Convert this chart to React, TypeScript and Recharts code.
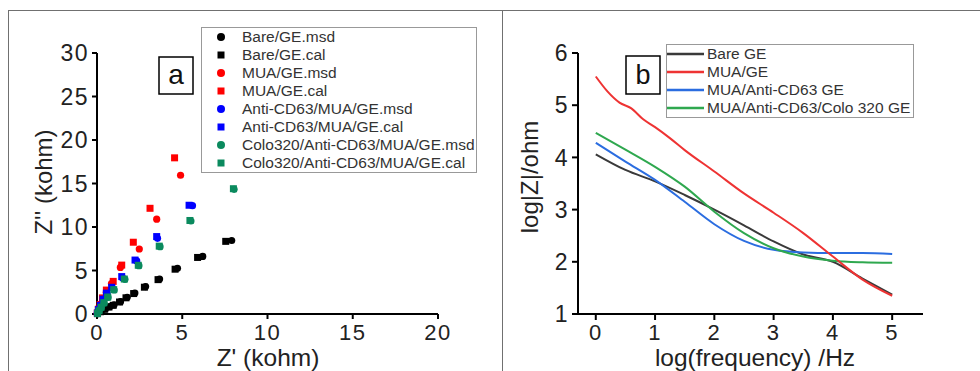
import React from "react";
import { ScatterChart, Scatter, LineChart, Line, XAxis, YAxis, Legend } from "recharts";

// panel a: Nyquist plot, Z' vs Z'' (kohm)
const bareMsd = [[0.05, 0.05], [0.25, 0.3], [0.5, 0.6], [0.75, 0.85], [1.0, 1.05], [1.38, 1.42], [1.77, 1.92], [2.22, 2.4], [2.85, 3.15], [3.67, 4.02], [4.72, 5.25], [6.2, 6.62], [7.9, 8.45]];
const bareCal = [[0.03, 0.04], [0.2, 0.26], [0.45, 0.55], [0.7, 0.8], [0.95, 1.0], [1.32, 1.38], [1.7, 1.86], [2.15, 2.35], [2.78, 3.08], [3.58, 3.95], [4.58, 5.15], [5.9, 6.5], [7.55, 8.35]];
const muaMsd = [[0.02, 0.1], [0.1, 0.5], [0.2, 1.0], [0.35, 1.75], [0.55, 2.5], [0.85, 3.5], [1.37, 5.35], [2.48, 7.47], [3.5, 10.9], [4.9, 15.95]];
const muaCal = [[0.02, 0.12], [0.08, 0.55], [0.18, 1.1], [0.32, 1.85], [0.55, 2.75], [0.95, 3.75], [1.45, 5.62], [2.13, 8.25], [3.11, 12.15], [4.55, 17.95]];
const antiMsd = [[0.02, 0.08], [0.1, 0.45], [0.22, 0.95], [0.38, 1.6], [0.6, 2.3], [0.9, 3.0], [1.5, 4.15], [2.33, 6.1], [3.55, 8.7], [5.6, 12.45]];
const antiCal = [[0.02, 0.1], [0.08, 0.5], [0.2, 1.0], [0.35, 1.7], [0.55, 2.4], [0.86, 3.07], [1.45, 4.3], [2.23, 6.2], [3.5, 8.9], [5.4, 12.5]];
const coloMsd = [[0.03, 0.05], [0.12, 0.35], [0.25, 0.75], [0.42, 1.25], [0.65, 1.9], [1.01, 2.76], [1.64, 3.98], [2.46, 5.56], [3.7, 7.74], [5.51, 10.69], [8.04, 14.33]];
const coloCal = [[0.03, 0.06], [0.12, 0.37], [0.24, 0.78], [0.4, 1.3], [0.63, 1.95], [0.98, 2.8], [1.6, 4.02], [2.42, 5.6], [3.65, 7.8], [5.45, 10.75], [8.0, 14.4]];

const zReTicks = [0, 5, 10, 15, 20];
const zImTicks = [0, 5, 10, 15, 20, 25, 30];

// panel b: Bode plot
const freq = [0, 0.5, 1, 1.5, 2, 2.5, 3, 3.5, 4, 4.5, 5];
const freqFine = [0, 0.2, 0.4, 0.6, 0.8, 1, 1.25, 1.5, 2, 2.5, 3, 3.5, 4, 4.5, 5];
const bareGE = [4.06, 3.76, 3.54, 3.28, 3.0, 2.7, 2.39, 2.14, 2.0, 1.68, 1.37];
const muaGE = [5.55, 5.26, 5.05, 4.94, 4.73, 4.58, 4.37, 4.14, 3.73, 3.31, 2.94, 2.55, 2.1, 1.66, 1.35];
const antiGE = [4.28, 3.92, 3.57, 3.15, 2.72, 2.4, 2.23, 2.18, 2.17, 2.17, 2.15];
const coloGE = [4.47, 4.15, 3.82, 3.44, 2.96, 2.55, 2.26, 2.1, 2.02, 1.99, 1.98];

const freqTicks = [0, 1, 2, 3, 4, 5];
const logZTicks = [1, 2, 3, 4, 5, 6];

const pts = (a: number[][]) => a.map(([x, y]) => ({ x, y }));
const zip = (xs: number[], ys: number[]) => xs.map((x, i) => ({ x, y: ys[i] }));

const FONT = "'Liberation Sans', Arial, sans-serif";

const scatterSeries = [
	{ name: "Bare/GE.msd", data: pts(bareMsd), color: "#000000", shape: "circle" },
	{ name: "Bare/GE.cal", data: pts(bareCal), color: "#000000", shape: "square" },
	{ name: "MUA/GE.msd", data: pts(muaMsd), color: "#ff0000", shape: "circle" },
	{ name: "MUA/GE.cal", data: pts(muaCal), color: "#ff0000", shape: "square" },
	{ name: "Anti-CD63/MUA/GE.msd", data: pts(antiMsd), color: "#0000ff", shape: "circle" },
	{ name: "Anti-CD63/MUA/GE.cal", data: pts(antiCal), color: "#0000ff", shape: "square" },
	{ name: "Colo320/Anti-CD63/MUA/GE.msd", data: pts(coloMsd), color: "#0b8a5e", shape: "circle" },
	{ name: "Colo320/Anti-CD63/MUA/GE.cal", data: pts(coloCal), color: "#0b8a5e", shape: "square" },
];

const lineSeries = [
	{ name: "Bare GE", data: zip(freq, bareGE), color: "#3a3a3a" },
	{ name: "MUA/GE", data: zip(freqFine, muaGE), color: "#ee3333" },
	{ name: "MUA/Anti-CD63 GE", data: zip(freq, antiGE), color: "#2b6de0" },
	{ name: "MUA/Anti-CD63/Colo 320 GE", data: zip(freq, coloGE), color: "#2fa84f" },
];
// red is drawn last so it covers the black tail
const lineDrawOrder = [0, 2, 3, 1];

const marker = (color: string, shape: string) => (props: any) =>
	shape === "circle" ? (
		<circle cx={props.cx} cy={props.cy} r={3.6} fill={color} />
	) : (
		<rect x={props.cx - 3.5} y={props.cy - 3.5} width={7} height={7} fill={color} />
	);

const axisLine = { stroke: "#000", strokeWidth: 2 };
const tickStyle = { fill: "#222", fontSize: 23, fontFamily: FONT, letterSpacing: 1.5 };
const xTickStyle = { ...tickStyle, fontSize: 22 };

const ScatterLegend = () => (
	<div
		style={{
			width: 276,
			height: 146,
			boxSizing: "border-box",
			border: "1.5px solid #999",
			background: "#fff",
			fontFamily: FONT,
			fontSize: 15.5,
			color: "#333",
		}}
	>
		{scatterSeries.map((s) => (
			<div key={s.name} style={{ display: "flex", alignItems: "center", height: 18 }}>
				<svg width={40} height={18} style={{ flex: "none" }}>
					{s.shape === "circle" ? (
						<circle cx={19} cy={9} r={4} fill={s.color} />
					) : (
						<rect x={15.5} y={5.5} width={7} height={7} fill={s.color} />
					)}
				</svg>
				<span style={{ whiteSpace: "nowrap" }}>{s.name}</span>
			</div>
		))}
	</div>
);

const LineLegend = () => (
	<div
		style={{
			width: 248,
			height: 74,
			boxSizing: "border-box",
			border: "1.5px solid #999",
			background: "#fff",
			fontFamily: FONT,
			fontSize: 15.5,
			color: "#333",
		}}
	>
		{lineSeries.map((s) => (
			<div key={s.name} style={{ display: "flex", alignItems: "center", height: 18 }}>
				<svg width={40} height={18} style={{ flex: "none" }}>
					<line x1={0} y1={9} x2={37} y2={9} stroke={s.color} strokeWidth={2.5} />
				</svg>
				<span style={{ whiteSpace: "nowrap" }}>{s.name}</span>
			</div>
		))}
	</div>
);

export default function App() {
	return (
		<div
			style={{
				position: "absolute",
				left: 0,
				top: 0,
				width: 980,
				height: 371,
				overflow: "hidden",
				background: "#fff",
			}}
		>
			<div
				style={{
					position: "absolute",
					left: 8,
					top: 10,
					width: 1000,
					height: 400,
					border: "1px solid #707070",
				}}
			/>
			<div style={{ position: "absolute", left: 502, top: 10, width: 1, height: 371, background: "#707070" }} />

			<div style={{ position: "absolute", left: 0, top: 0 }}>
				<ScatterChart width={490} height={371} margin={{ top: 53, right: 52, bottom: 0, left: 0 }}>
					<XAxis
						type="number"
						dataKey="x"
						domain={[0, 20]}
						ticks={zReTicks}
						height={57}
						tickSize={5}
						tickMargin={5}
						axisLine={axisLine}
						tickLine={axisLine}
						tick={xTickStyle}
					/>
					<YAxis
						type="number"
						dataKey="y"
						domain={[0, 30]}
						ticks={zImTicks}
						width={97}
						tickSize={5}
						tickMargin={3}
						axisLine={axisLine}
						tickLine={axisLine}
						tick={tickStyle}
					/>
					{scatterSeries.map((s) => (
						<Scatter
							key={s.name}
							name={s.name}
							data={s.data}
							fill={s.color}
							shape={marker(s.color, s.shape)}
							isAnimationActive={false}
						/>
					))}
					<Legend
						layout="vertical"
						align="center"
						verticalAlign="middle"
						content={ScatterLegend}
						wrapperStyle={{ left: 201, top: 27, width: 276, height: 146 }}
					/>
					<rect x={159} y={57} width={34} height={37} fill="none" stroke="#000" strokeWidth={1.5} />
					<text x={176} y={84} textAnchor="middle" style={{ fontSize: 28, fontFamily: FONT, fill: "#111" }}>
						a
					</text>
					<text x={268} y={366} textAnchor="middle" style={{ fontSize: 24.5, fontFamily: FONT, fill: "#222" }}>
						Z' (kohm)
					</text>
					<text
						x={52}
						y={182}
						textAnchor="middle"
						transform="rotate(-90 52 182)"
						style={{ fontSize: 24, fontFamily: FONT, fill: "#222" }}
					>
						Z'' (kohm)
					</text>
				</ScatterChart>
			</div>

			<div style={{ position: "absolute", left: 490, top: 0 }}>
				<LineChart width={490} height={371} margin={{ top: 53, right: 57, bottom: 0, left: 0 }}>
					<XAxis
						type="number"
						dataKey="x"
						domain={[-0.3, 5.52]}
						ticks={freqTicks}
						allowDataOverflow
						height={57}
						tickSize={6}
						tickMargin={4}
						axisLine={axisLine}
						tickLine={axisLine}
						tick={xTickStyle}
					/>
					<YAxis
						type="number"
						domain={[1, 6]}
						ticks={logZTicks}
						width={88}
						tickSize={6}
						tickMargin={3}
						axisLine={axisLine}
						tickLine={axisLine}
						tick={tickStyle}
					/>
					{lineDrawOrder.map((i) => {
						const s = lineSeries[i];
						return (
							<Line
								key={s.name}
								name={s.name}
								data={s.data}
								dataKey="y"
								type="monotone"
								stroke={s.color}
								strokeWidth={2}
								dot={false}
								isAnimationActive={false}
							/>
						);
					})}
					<Legend
						layout="vertical"
						align="center"
						verticalAlign="middle"
						content={LineLegend}
						wrapperStyle={{ left: 176, top: 44, width: 248, height: 74 }}
					/>
					<rect x={136} y={56} width={34} height={38} fill="none" stroke="#000" strokeWidth={1.5} />
					<text x={153} y={84} textAnchor="middle" style={{ fontSize: 27, fontFamily: FONT, fill: "#111" }}>
						b
					</text>
					<text x={265} y={366} textAnchor="middle" style={{ fontSize: 24.5, fontFamily: FONT, fill: "#222" }}>
						log(frequency) /Hz
					</text>
					<text
						x={48}
						y={177}
						textAnchor="middle"
						transform="rotate(-90 48 177)"
						style={{ fontSize: 24, fontFamily: FONT, fill: "#222" }}
					>
						log|Z|/ohm
					</text>
				</LineChart>
			</div>
		</div>
	);
}
